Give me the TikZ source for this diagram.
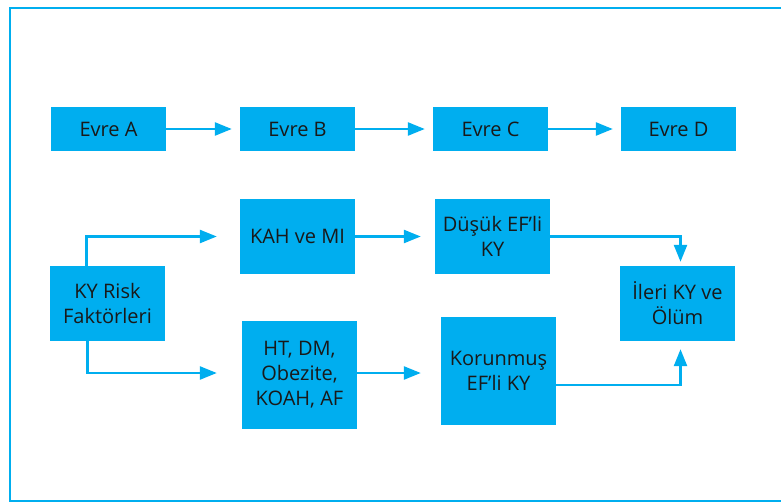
\documentclass[tikz,border=0pt]{standalone}
\usepackage{fontspec}
\setmainfont{Open Sans}
\usetikzlibrary{arrows.meta}
\definecolor{kyblue}{HTML}{00AEEF}
\tikzset{
  box/.style={fill=kyblue, draw=none, minimum width=115pt, inner sep=2pt,
    align=center, font=\fontsize{20}{25}\selectfont, text=black!90},
  arr/.style={draw=kyblue, line width=2.5pt, -{Triangle[length=17pt,width=13pt]}},
  frame/.style={draw=kyblue, line width=2pt}
}
\begin{document}
\begin{tikzpicture}[x=1pt, y=-1pt]
\useasboundingbox (0,0) rectangle (781,503);
\clip (0,0) rectangle (781,503);
\draw[frame] (10,8) rectangle (800,500.5);

\node[box, minimum height=44pt] (a) at (108.5,129) {Evre A};
\node[box, minimum height=44pt] (b) at (297.5,129) {Evre B};
\node[box, minimum height=44pt] (c) at (490.5,129) {Evre C};
\node[box, minimum height=44pt] (d) at (678.5,129) {Evre D};

\node[box, minimum height=75pt] (kah) at (297.5,236.5) {KAH ve MI};
\node[box, minimum height=75pt] (dus) at (492.5,236.5) {Düşük EF’li\\KY};
\node[box, minimum height=75pt] (kyr) at (107.5,303.5) {KY Risk\\Faktörleri};
\node[box, minimum height=108pt] (ht) at (299.5,375) {HT, DM,\\Obezite,\\KOAH, AF};
\node[box, minimum height=108pt] (kor) at (498.5,371) {Korunmuş\\EF’li KY};
\node[box, minimum height=75pt] (ileri) at (677.5,303.5) {İleri KY ve\\Ölüm};

\draw[arr, shorten >=8pt] (a) -- (b);
\draw[arr, shorten >=8pt] (b) -- (c);
\draw[arr, shorten >=8pt] (c) -- (d);

\draw[arr, shorten >=23pt] ([xshift=-21pt]kyr.north) |- (kah.west);
\draw[arr, shorten >=25pt] ([xshift=-20pt]kyr.south) |- ([yshift=2pt]ht.west);
\draw[arr, shorten >=14pt] (kah) -- (dus);
\draw[arr, shorten >=20pt] ([yshift=2pt]ht.east) -- ([yshift=2pt]ht.east -| kor.west);
\draw[arr, shorten >=4pt] (dus.east) -| ([xshift=3pt]ileri.north);
\draw[arr, shorten >=8pt] ([yshift=-14pt]kor.east) -| ([xshift=3pt]ileri.south);
\end{tikzpicture}
\end{document}
